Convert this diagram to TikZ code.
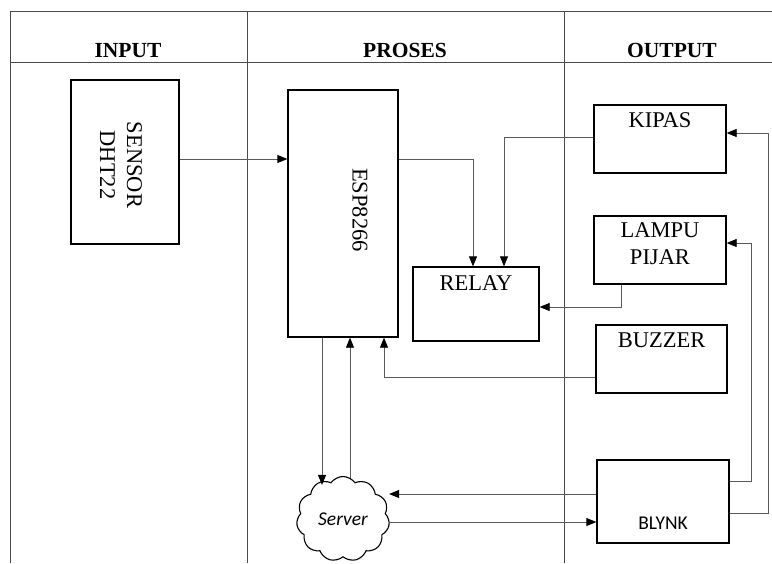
\documentclass[tikz,border=0pt]{standalone}
\usepackage{fontspec}
\setmainfont{Liberation Serif}
\newfontfamily\sansfont{Carlito}
\usepackage{xcolor}
\usetikzlibrary{arrows.meta,shapes.symbols}
\definecolor{gridgrey}{HTML}{4A4A4A}
\definecolor{wiregrey}{HTML}{5A5A5A}

\begin{document}
\begin{tikzpicture}[x=1pt, y=-1pt, every node/.style={font=\fontsize{22.5}{27}\selectfont},
  blk/.style={draw=black, line width=1.3pt, fill=white, inner sep=0pt},
  head/.style={font=\fontsize{21.5}{25}\selectfont\bfseries, anchor=base},
  lbl/.style={align=center, inner sep=0pt},
  arr/.style={-{Triangle[length=10pt, width=8pt, color=black]}, wiregrey, line width=0.8pt}]
\useasboundingbox (0,0) rectangle (772,563);
% table
\draw[gridgrey, line width=0.8pt] (10,11) -- (772,11) (10,62) -- (772,62)
  (10,11) -- (10,563) (247,11) -- (247,563) (564,11) -- (564,563);
\node[head] (hin) at (128,57) {INPUT};
\node[head] (hpr) at (405,57) {PROSES};
\node[head] (hout) at (672,57) {OUTPUT};
% blocks
\node[blk, minimum width=108pt, minimum height=164pt] (sensor) at (125,162) {};
\node[lbl, rotate=-90] (sensortxt) at (121,165) {SENSOR\\DHT22};
\node[blk, minimum width=110pt, minimum height=247pt] (esp) at (343,213.5) {};
\node[lbl, rotate=-90] (esptxt) at (360,210) {ESP8266};
\node[blk, minimum width=126pt, minimum height=74pt] (relay) at (476,304) {};
\node[lbl] (relaytxt) at (476,283) {RELAY};
\node[blk, minimum width=132pt, minimum height=68pt] (kipas) at (660,139) {};
\node[lbl] (kipastxt) at (660,120) {KIPAS};
\node[blk, minimum width=132pt, minimum height=68pt] (lampu) at (660,250) {};
\node[lbl] (lamputxt) at (660,244) {LAMPU\\PIJAR};
\node[blk, minimum width=131pt, minimum height=68pt] (buzzer) at (661.5,359) {};
\node[lbl] (buzzertxt) at (661.5,340) {BUZZER};
\node[blk, minimum width=132pt, minimum height=83pt] (blynk) at (663,501.5) {};
\node[lbl, font=\sansfont\fontsize{19.5}{22}\selectfont] (blynktxt) at (663,523) {BLYNK};
\node[cloud, cloud puffs=11, cloud puff arc=110, aspect=1.1, draw=black, line width=1.1pt,
  minimum width=93pt, minimum height=85pt, inner sep=0pt,
  font=\sansfont\itshape\fontsize{19.5}{22}\selectfont] (server) at (343,519) {Server};
% connectors
\draw[arr] ([yshift=3pt]sensor.east) -- ([yshift=3pt]sensor.east -| esp.west);
\draw[arr] ([yshift=54.5pt]esp.east) -| ([xshift=-3pt]relay.north);
\draw[arr] ([yshift=2pt]kipas.west) -| ([xshift=28pt]relay.north);
\draw[arr] ([xshift=-39pt]lampu.south) |- ([yshift=-3pt]relay.east);
\draw[arr] ([yshift=-18pt]buzzer.west) -| ([xshift=41pt]esp.south);
\draw[arr] ([xshift=-21pt]esp.south) -- ([xshift=-21pt, yshift=-9pt]esp.south |- server.north);
\draw[arr] ([xshift=7pt, yshift=-2pt]esp.south |- server.north) -- ([xshift=7pt]esp.south);
\draw[arr] ([yshift=7.5pt]blynk.west) -- ([yshift=7.5pt]blynk.west -| server.east);
\draw[arr] ([yshift=-20.5pt]blynk.west -| server.east) -- ([yshift=-20.5pt]blynk.west);
\draw[arr] ([yshift=20.5pt]blynk.east) -- ++(22pt,0) |- ([yshift=7pt]lampu.east);
\draw[arr] ([yshift=-11.5pt]blynk.east) -- ++(39pt,0) |- ([yshift=6pt]kipas.east);
\end{tikzpicture}
\end{document}
